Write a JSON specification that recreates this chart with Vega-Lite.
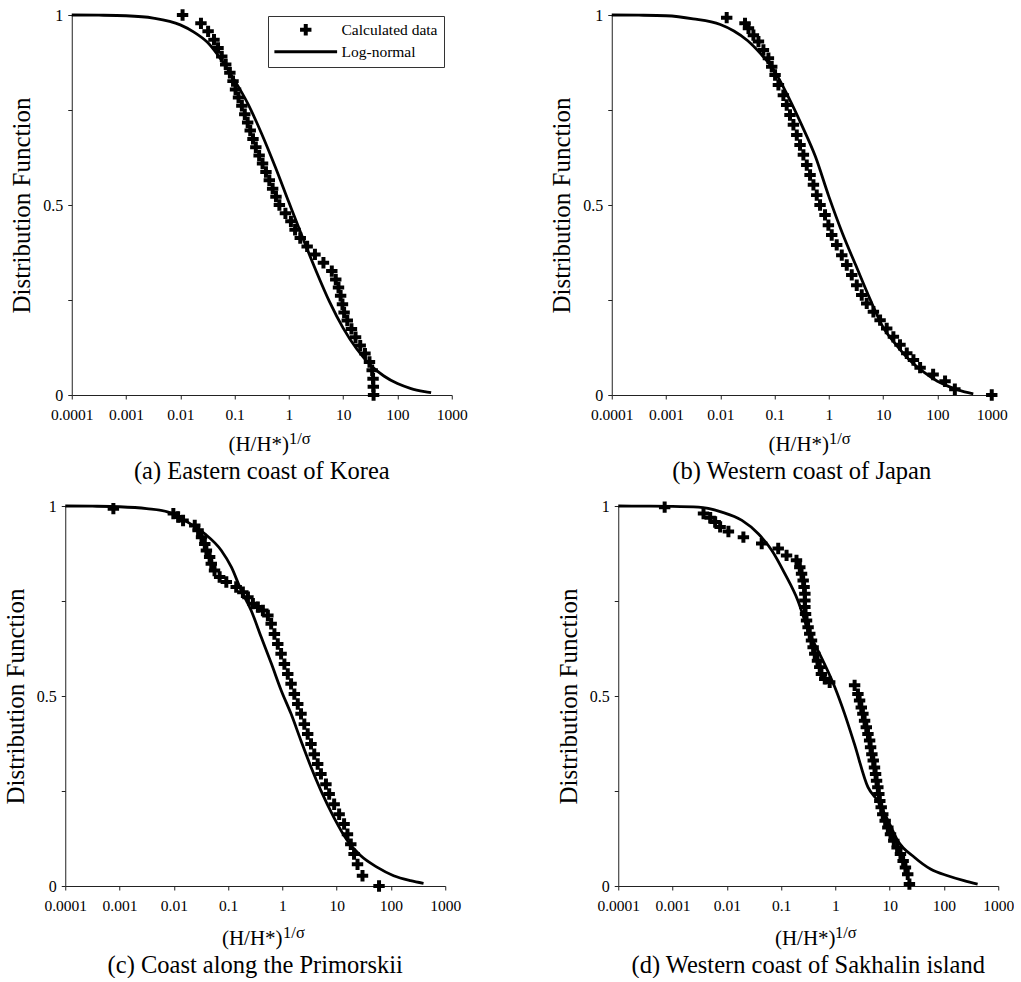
{
  "$schema": "https://vega.github.io/schema/vega-lite/v6.json",
  "background": "white",
  "padding": {"left": 3, "top": 7, "right": 0, "bottom": 0},
  "config": {
    "font": "Liberation Serif",
    "view": {"stroke": null},
    "title": {"font": "Liberation Serif", "fontSize": 24.5, "fontWeight": "normal", "color": "black", "anchor": "middle", "orient": "bottom", "offset": 6},
    "axis": {"domainColor": "#222", "tickColor": "#222", "tickSize": 4, "grid": false, "labelFont": "Liberation Serif", "labelColor": "black", "titleFont": "Liberation Serif", "titleFontWeight": "normal", "titleColor": "black"},
    "legend": {"labelFont": "Liberation Serif", "labelColor": "black"}
  },
  "datasets": {
    "a_pts": [
      {"x": 0.011, "y": 1.0}, {"x": 0.024, "y": 0.978}, {"x": 0.0325, "y": 0.957}, {"x": 0.0417, "y": 0.935},
      {"x": 0.0495, "y": 0.913}, {"x": 0.058, "y": 0.891}, {"x": 0.0686, "y": 0.870}, {"x": 0.0818, "y": 0.848},
      {"x": 0.0935, "y": 0.826}, {"x": 0.104, "y": 0.804}, {"x": 0.118, "y": 0.783}, {"x": 0.136, "y": 0.761},
      {"x": 0.154, "y": 0.739}, {"x": 0.174, "y": 0.717}, {"x": 0.194, "y": 0.696}, {"x": 0.218, "y": 0.674},
      {"x": 0.246, "y": 0.652}, {"x": 0.283, "y": 0.630}, {"x": 0.327, "y": 0.609}, {"x": 0.378, "y": 0.587},
      {"x": 0.436, "y": 0.565}, {"x": 0.502, "y": 0.543}, {"x": 0.578, "y": 0.522}, {"x": 0.668, "y": 0.500},
      {"x": 0.863, "y": 0.478}, {"x": 1.09, "y": 0.457}, {"x": 1.30, "y": 0.435}, {"x": 1.62, "y": 0.413},
      {"x": 2.17, "y": 0.391}, {"x": 3.02, "y": 0.370}, {"x": 4.33, "y": 0.348}, {"x": 6.17, "y": 0.326},
      {"x": 7.3, "y": 0.304}, {"x": 8.2, "y": 0.283}, {"x": 8.97, "y": 0.261}, {"x": 9.7, "y": 0.239},
      {"x": 10.4, "y": 0.217}, {"x": 11.9, "y": 0.196}, {"x": 14.2, "y": 0.174}, {"x": 16.9, "y": 0.152},
      {"x": 20.6, "y": 0.130}, {"x": 25.2, "y": 0.109}, {"x": 30.5, "y": 0.087}, {"x": 34.2, "y": 0.065},
      {"x": 35.5, "y": 0.043}, {"x": 35.9, "y": 0.022}, {"x": 36.3, "y": 0.0}
    ],
    "a_fit": [
      {"x": 0.0001, "y": 1.0}, {"x": 0.000316, "y": 0.9995}, {"x": 0.001, "y": 0.998}, {"x": 0.00316, "y": 0.992},
      {"x": 0.01, "y": 0.974}, {"x": 0.0178, "y": 0.955}, {"x": 0.0316, "y": 0.928}, {"x": 0.0562, "y": 0.883},
      {"x": 0.1, "y": 0.828}, {"x": 0.178, "y": 0.765}, {"x": 0.316, "y": 0.687}, {"x": 0.562, "y": 0.6},
      {"x": 1.0, "y": 0.507}, {"x": 1.78, "y": 0.415}, {"x": 3.16, "y": 0.327}, {"x": 5.62, "y": 0.245},
      {"x": 10, "y": 0.176}, {"x": 17.8, "y": 0.121}, {"x": 31.6, "y": 0.079}, {"x": 56.2, "y": 0.05},
      {"x": 100, "y": 0.03}, {"x": 178, "y": 0.017}, {"x": 316, "y": 0.009}, {"x": 417, "y": 0.006}
    ],
    "b_pts": [
      {"x": 0.0131, "y": 0.993}, {"x": 0.0285, "y": 0.978}, {"x": 0.033, "y": 0.965}, {"x": 0.0407, "y": 0.947},
      {"x": 0.0504, "y": 0.93}, {"x": 0.0622, "y": 0.908}, {"x": 0.0769, "y": 0.886}, {"x": 0.0885, "y": 0.864},
      {"x": 0.102, "y": 0.842}, {"x": 0.1175, "y": 0.816}, {"x": 0.145, "y": 0.789}, {"x": 0.167, "y": 0.763},
      {"x": 0.192, "y": 0.737}, {"x": 0.222, "y": 0.711}, {"x": 0.256, "y": 0.684}, {"x": 0.294, "y": 0.658},
      {"x": 0.339, "y": 0.632}, {"x": 0.391, "y": 0.605}, {"x": 0.45, "y": 0.579}, {"x": 0.519, "y": 0.553},
      {"x": 0.597, "y": 0.526}, {"x": 0.687, "y": 0.5}, {"x": 0.849, "y": 0.474}, {"x": 0.979, "y": 0.447},
      {"x": 1.127, "y": 0.421}, {"x": 1.393, "y": 0.395}, {"x": 1.726, "y": 0.368}, {"x": 2.133, "y": 0.342},
      {"x": 2.636, "y": 0.316}, {"x": 3.258, "y": 0.289}, {"x": 4.027, "y": 0.263}, {"x": 4.977, "y": 0.241},
      {"x": 6.607, "y": 0.219}, {"x": 8.77, "y": 0.197}, {"x": 11.61, "y": 0.175}, {"x": 15.42, "y": 0.153},
      {"x": 20.4, "y": 0.132}, {"x": 27.2, "y": 0.11}, {"x": 36.1, "y": 0.092}, {"x": 47.9, "y": 0.072},
      {"x": 83.2, "y": 0.054}, {"x": 138, "y": 0.036}, {"x": 209, "y": 0.015}, {"x": 1000, "y": 0.0}
    ],
    "b_fit": [
      {"x": 0.0001, "y": 1.0}, {"x": 0.000316, "y": 0.9995}, {"x": 0.001, "y": 0.998}, {"x": 0.00316, "y": 0.99},
      {"x": 0.01, "y": 0.975}, {"x": 0.0178, "y": 0.958}, {"x": 0.0316, "y": 0.933}, {"x": 0.0562, "y": 0.897},
      {"x": 0.1, "y": 0.852}, {"x": 0.178, "y": 0.785}, {"x": 0.316, "y": 0.71}, {"x": 0.562, "y": 0.628},
      {"x": 1.0, "y": 0.522}, {"x": 1.78, "y": 0.425}, {"x": 3.16, "y": 0.34}, {"x": 5.62, "y": 0.255},
      {"x": 10, "y": 0.178}, {"x": 17.8, "y": 0.13}, {"x": 31.6, "y": 0.09}, {"x": 56.2, "y": 0.06},
      {"x": 100, "y": 0.036}, {"x": 178, "y": 0.02}, {"x": 316, "y": 0.008}, {"x": 457, "y": 0.003}
    ],
    "c_pts": [
      {"x": 0.00077, "y": 0.993}, {"x": 0.0098, "y": 0.98}, {"x": 0.012, "y": 0.971}, {"x": 0.0148, "y": 0.962},
      {"x": 0.0243, "y": 0.949}, {"x": 0.028, "y": 0.936}, {"x": 0.0324, "y": 0.918}, {"x": 0.0372, "y": 0.9},
      {"x": 0.0398, "y": 0.883}, {"x": 0.0457, "y": 0.866}, {"x": 0.049, "y": 0.848}, {"x": 0.0562, "y": 0.83},
      {"x": 0.0698, "y": 0.813}, {"x": 0.0927, "y": 0.8}, {"x": 0.141, "y": 0.787}, {"x": 0.187, "y": 0.773},
      {"x": 0.232, "y": 0.76}, {"x": 0.286, "y": 0.743}, {"x": 0.353, "y": 0.734}, {"x": 0.437, "y": 0.725},
      {"x": 0.54, "y": 0.712}, {"x": 0.621, "y": 0.69}, {"x": 0.713, "y": 0.663}, {"x": 0.822, "y": 0.637},
      {"x": 0.946, "y": 0.611}, {"x": 1.089, "y": 0.584}, {"x": 1.256, "y": 0.558}, {"x": 1.445, "y": 0.532},
      {"x": 1.66, "y": 0.505}, {"x": 1.919, "y": 0.479}, {"x": 2.203, "y": 0.453}, {"x": 2.535, "y": 0.426},
      {"x": 2.924, "y": 0.4}, {"x": 3.365, "y": 0.374}, {"x": 3.864, "y": 0.347}, {"x": 4.467, "y": 0.321},
      {"x": 5.129, "y": 0.295}, {"x": 6.34, "y": 0.268}, {"x": 7.28, "y": 0.242}, {"x": 8.99, "y": 0.215},
      {"x": 11.1, "y": 0.189}, {"x": 13.7, "y": 0.163}, {"x": 15.8, "y": 0.136}, {"x": 18.2, "y": 0.11},
      {"x": 20.9, "y": 0.084}, {"x": 24.2, "y": 0.057}, {"x": 29.9, "y": 0.027}, {"x": 60.3, "y": 0.0}
    ],
    "c_fit": [
      {"x": 0.0001, "y": 1.0}, {"x": 0.000316, "y": 0.9995}, {"x": 0.001, "y": 0.998}, {"x": 0.00316, "y": 0.993},
      {"x": 0.0079, "y": 0.984}, {"x": 0.0178, "y": 0.958}, {"x": 0.0372, "y": 0.927}, {"x": 0.075, "y": 0.883},
      {"x": 0.115, "y": 0.839}, {"x": 0.174, "y": 0.778}, {"x": 0.266, "y": 0.725}, {"x": 0.407, "y": 0.655},
      {"x": 0.631, "y": 0.584}, {"x": 0.955, "y": 0.514}, {"x": 1.445, "y": 0.453}, {"x": 2.19, "y": 0.383},
      {"x": 3.39, "y": 0.312}, {"x": 5.13, "y": 0.251}, {"x": 8.91, "y": 0.18}, {"x": 15.8, "y": 0.119},
      {"x": 27.5, "y": 0.08}, {"x": 56.2, "y": 0.049}, {"x": 112, "y": 0.027}, {"x": 229, "y": 0.014},
      {"x": 398, "y": 0.007}
    ],
    "d_pts": [
      {"x": 0.000716, "y": 0.997}, {"x": 0.00372, "y": 0.98}, {"x": 0.00494, "y": 0.969}, {"x": 0.0061, "y": 0.958},
      {"x": 0.00753, "y": 0.945}, {"x": 0.0107, "y": 0.933}, {"x": 0.0202, "y": 0.918}, {"x": 0.0439, "y": 0.901},
      {"x": 0.0885, "y": 0.888}, {"x": 0.126, "y": 0.87}, {"x": 0.192, "y": 0.857}, {"x": 0.221, "y": 0.839},
      {"x": 0.238, "y": 0.822}, {"x": 0.255, "y": 0.804}, {"x": 0.265, "y": 0.787}, {"x": 0.274, "y": 0.769},
      {"x": 0.274, "y": 0.751}, {"x": 0.274, "y": 0.734}, {"x": 0.282, "y": 0.716}, {"x": 0.294, "y": 0.699},
      {"x": 0.314, "y": 0.681}, {"x": 0.337, "y": 0.664}, {"x": 0.363, "y": 0.646}, {"x": 0.389, "y": 0.628},
      {"x": 0.417, "y": 0.611}, {"x": 0.468, "y": 0.593}, {"x": 0.515, "y": 0.576}, {"x": 0.553, "y": 0.558},
      {"x": 0.637, "y": 0.545}, {"x": 0.785, "y": 0.536}, {"x": 2.26, "y": 0.528}, {"x": 2.6, "y": 0.505},
      {"x": 2.79, "y": 0.488}, {"x": 3.0, "y": 0.47}, {"x": 3.21, "y": 0.453}, {"x": 3.45, "y": 0.435},
      {"x": 3.71, "y": 0.418}, {"x": 3.98, "y": 0.4}, {"x": 4.27, "y": 0.383}, {"x": 4.45, "y": 0.365},
      {"x": 4.7, "y": 0.347}, {"x": 4.98, "y": 0.33}, {"x": 5.25, "y": 0.312}, {"x": 5.5, "y": 0.295},
      {"x": 5.73, "y": 0.277}, {"x": 6.05, "y": 0.26}, {"x": 6.31, "y": 0.242}, {"x": 6.58, "y": 0.224},
      {"x": 6.98, "y": 0.207}, {"x": 7.46, "y": 0.189}, {"x": 8.26, "y": 0.172}, {"x": 9.25, "y": 0.154},
      {"x": 10.35, "y": 0.136}, {"x": 11.9, "y": 0.119}, {"x": 13.7, "y": 0.101}, {"x": 15.8, "y": 0.084},
      {"x": 17.7, "y": 0.066}, {"x": 19.5, "y": 0.049}, {"x": 21.5, "y": 0.031}, {"x": 23.1, "y": 0.005}
    ],
    "d_fit": [
      {"x": 0.0001, "y": 1.0}, {"x": 0.000316, "y": 0.9995}, {"x": 0.001, "y": 0.999}, {"x": 0.003, "y": 0.997},
      {"x": 0.0081, "y": 0.984}, {"x": 0.019, "y": 0.962}, {"x": 0.038, "y": 0.927}, {"x": 0.0676, "y": 0.883},
      {"x": 0.117, "y": 0.822}, {"x": 0.204, "y": 0.751}, {"x": 0.316, "y": 0.672}, {"x": 0.55, "y": 0.602},
      {"x": 0.977, "y": 0.523}, {"x": 1.48, "y": 0.453}, {"x": 2.24, "y": 0.374}, {"x": 3.98, "y": 0.26},
      {"x": 6.03, "y": 0.224}, {"x": 9.33, "y": 0.172}, {"x": 14.1, "y": 0.119}, {"x": 28.8, "y": 0.075},
      {"x": 57.5, "y": 0.044}, {"x": 117, "y": 0.027}, {"x": 234, "y": 0.014}, {"x": 417, "y": 0.005}
    ],
    "sup_ab": [{"x": 1.0, "y": 0, "t": "1/σ"}],
    "sup_c": [{"x": 1.03, "y": 0, "t": "1/σ"}],
    "sup_d": [{"x": 0.98, "y": 0, "t": "1/σ"}]
  },
  "center": true,
  "spacing": 14,
  "vconcat": [
    {
      "spacing": 82,
      "hconcat": [
        {
          "width": 380, "height": 380,
          "title": "(a) Eastern coast of Korea",
          "encoding": {
            "x": {"field": "x", "type": "quantitative", "scale": {"type": "log", "domain": [0.0001, 1000]},
                  "axis": {"title": "(H/H*)", "values": [0.0001, 0.001, 0.01, 0.1, 1, 10, 100, 1000], "format": "~g", "labelFontSize": 15.5, "labelPadding": 8, "labelFlush": false, "labelOverlap": false, "titleFontSize": 21, "titleX": 186.5, "titleY": 55, "titleBaseline": "alphabetic"}},
            "y": {"field": "y", "type": "quantitative", "scale": {"domain": [0, 1], "nice": false},
                  "axis": {"title": "Distribution Function", "values": [0, 0.25, 0.5, 0.75, 1], "labelExpr": "datum.value == 0.25 || datum.value == 0.75 ? '' : format(datum.value, '~g')", "labelFontSize": 16, "labelPadding": 5, "titleFontSize": 25, "titleAngle": 270, "titleX": -42, "titleY": 190, "titleBaseline": "alphabetic"}}
          },
          "layer": [
            {"data": {"name": "a_fit"}, "mark": {"type": "line", "color": "black", "strokeWidth": 2.8, "interpolate": "monotone"}},
            {"data": {"name": "a_pts"}, "mark": {"type": "point", "filled": true, "size": 130, "opacity": 1, "color": "black"},
             "encoding": {"shape": {"datum": "Calculated data", "type": "nominal",
               "scale": {"domain": ["Calculated data", "Log-normal"], "range": ["M-1,-0.35H-0.35V-1H0.35V-0.35H1V0.35H0.35V1H-0.35V0.35H-1Z", "M-5.5,-0.27H5.5V0.27H-5.5Z"]},
               "legend": {"orient": "none", "legendX": 203, "legendY": 1, "title": null, "padding": 6, "strokeColor": "#333", "fillColor": "white", "symbolOffset": 24, "labelOffset": 28, "labelFontSize": 15.5, "rowPadding": 5, "symbolStrokeWidth": 0, "symbolFillColor": "black", "symbolSize": 130}}}},
            {"data": {"name": "sup_ab"}, "mark": {"type": "text", "align": "left", "baseline": "alphabetic", "dy": 49, "fontSize": 16.5, "font": "Liberation Serif", "color": "black"},
             "encoding": {"text": {"field": "t", "type": "nominal"}}}
          ]
        },
        {
          "width": 380, "height": 380,
          "title": "(b) Western coast of Japan",
          "encoding": {
            "x": {"field": "x", "type": "quantitative", "scale": {"type": "log", "domain": [0.0001, 1000]},
                  "axis": {"title": "(H/H*)", "values": [0.0001, 0.001, 0.01, 0.1, 1, 10, 100, 1000], "format": "~g", "labelFontSize": 15.5, "labelPadding": 8, "labelFlush": false, "labelOverlap": false, "titleFontSize": 21, "titleX": 186.5, "titleY": 55, "titleBaseline": "alphabetic"}},
            "y": {"field": "y", "type": "quantitative", "scale": {"domain": [0, 1], "nice": false},
                  "axis": {"title": "Distribution Function", "values": [0, 0.25, 0.5, 0.75, 1], "labelExpr": "datum.value == 0.25 || datum.value == 0.75 ? '' : format(datum.value, '~g')", "labelFontSize": 16, "labelPadding": 5, "titleFontSize": 25, "titleAngle": 270, "titleX": -42, "titleY": 190, "titleBaseline": "alphabetic"}}
          },
          "layer": [
            {"data": {"name": "b_fit"}, "mark": {"type": "line", "color": "black", "strokeWidth": 2.8, "interpolate": "monotone"}},
            {"data": {"name": "b_pts"}, "mark": {"type": "point", "filled": true, "size": 130, "opacity": 1, "color": "black"},
             "encoding": {"shape": {"datum": "Calculated data", "type": "nominal",
               "scale": {"domain": ["Calculated data", "Log-normal"], "range": ["M-1,-0.35H-0.35V-1H0.35V-0.35H1V0.35H0.35V1H-0.35V0.35H-1Z", "M-5.5,-0.27H5.5V0.27H-5.5Z"]},
               "legend": {"orient": "none", "legendX": 200, "legendY": 2, "title": null, "padding": 6, "strokeColor": "#333", "fillColor": "white", "symbolOffset": 24, "labelOffset": 28, "labelFontSize": 15.5, "rowPadding": 5, "symbolStrokeWidth": 0, "symbolFillColor": "black", "symbolSize": 130}}}},
            {"data": {"name": "sup_ab"}, "mark": {"type": "text", "align": "left", "baseline": "alphabetic", "dy": 49, "fontSize": 16.5, "font": "Liberation Serif", "color": "black"},
             "encoding": {"text": {"field": "t", "type": "nominal"}}}
          ]
        }
      ]
    },
    {
      "spacing": 95,
      "hconcat": [
        {
          "width": 380, "height": 380,
          "title": "(c) Coast along the Primorskii",
          "encoding": {
            "x": {"field": "x", "type": "quantitative", "scale": {"type": "log", "domain": [0.0001, 1000]},
                  "axis": {"title": "(H/H*)", "values": [0.0001, 0.001, 0.01, 0.1, 1, 10, 100, 1000], "format": "~g", "labelFontSize": 15.5, "labelPadding": 8, "labelFlush": false, "labelOverlap": false, "titleFontSize": 21, "titleX": 186.5, "titleY": 58, "titleBaseline": "alphabetic"}},
            "y": {"field": "y", "type": "quantitative", "scale": {"domain": [0, 1], "nice": false},
                  "axis": {"title": "Distribution Function", "values": [0, 0.25, 0.5, 0.75, 1], "labelExpr": "datum.value == 0.25 || datum.value == 0.75 ? '' : format(datum.value, '~g')", "labelFontSize": 16, "labelPadding": 5, "titleFontSize": 25, "titleAngle": 270, "titleX": -42, "titleY": 190, "titleBaseline": "alphabetic"}}
          },
          "layer": [
            {"data": {"name": "c_fit"}, "mark": {"type": "line", "color": "black", "strokeWidth": 2.8, "interpolate": "monotone"}},
            {"data": {"name": "c_pts"}, "mark": {"type": "point", "filled": true, "size": 130, "opacity": 1, "color": "black"},
             "encoding": {"shape": {"datum": "Calculated data", "type": "nominal",
               "scale": {"domain": ["Calculated data", "Log-normal"], "range": ["M-1,-0.35H-0.35V-1H0.35V-0.35H1V0.35H0.35V1H-0.35V0.35H-1Z", "M-5.5,-0.27H5.5V0.27H-5.5Z"]},
               "legend": {"orient": "none", "legendX": 222, "legendY": 1, "title": null, "padding": 5, "strokeColor": "#333", "fillColor": "white", "symbolOffset": 24, "labelOffset": 28, "labelFontSize": 14, "rowPadding": 4, "symbolStrokeWidth": 0, "symbolFillColor": "black", "symbolSize": 130}}}},
            {"data": {"name": "sup_c"}, "mark": {"type": "text", "align": "left", "baseline": "alphabetic", "dy": 52, "fontSize": 16.5, "font": "Liberation Serif", "color": "black"},
             "encoding": {"text": {"field": "t", "type": "nominal"}}}
          ]
        },
        {
          "width": 380, "height": 380,
          "title": "(d) Western coast of Sakhalin island",
          "encoding": {
            "x": {"field": "x", "type": "quantitative", "scale": {"type": "log", "domain": [0.0001, 1000]},
                  "axis": {"title": "(H/H*)", "values": [0.0001, 0.001, 0.01, 0.1, 1, 10, 100, 1000], "format": "~g", "labelFontSize": 15.5, "labelPadding": 8, "labelFlush": false, "labelOverlap": false, "titleFontSize": 21, "titleX": 186.5, "titleY": 58, "titleBaseline": "alphabetic"}},
            "y": {"field": "y", "type": "quantitative", "scale": {"domain": [0, 1], "nice": false},
                  "axis": {"title": "Distribution Function", "values": [0, 0.25, 0.5, 0.75, 1], "labelExpr": "datum.value == 0.25 || datum.value == 0.75 ? '' : format(datum.value, '~g')", "labelFontSize": 16, "labelPadding": 5, "titleFontSize": 25, "titleAngle": 270, "titleX": -42, "titleY": 190, "titleBaseline": "alphabetic"}}
          },
          "layer": [
            {"data": {"name": "d_fit"}, "mark": {"type": "line", "color": "black", "strokeWidth": 2.8, "interpolate": "monotone"}},
            {"data": {"name": "d_pts"}, "mark": {"type": "point", "filled": true, "size": 130, "opacity": 1, "color": "black"},
             "encoding": {"shape": {"datum": "Calculated data", "type": "nominal",
               "scale": {"domain": ["Calculated data", "Log-normal"], "range": ["M-1,-0.35H-0.35V-1H0.35V-0.35H1V0.35H0.35V1H-0.35V0.35H-1Z", "M-5.5,-0.27H5.5V0.27H-5.5Z"]},
               "legend": {"orient": "none", "legendX": 208, "legendY": -2, "title": null, "padding": 6, "strokeColor": "#333", "fillColor": "white", "symbolOffset": 24, "labelOffset": 28, "labelFontSize": 15.5, "rowPadding": 5, "symbolStrokeWidth": 0, "symbolFillColor": "black", "symbolSize": 130}}}},
            {"data": {"name": "sup_d"}, "mark": {"type": "text", "align": "left", "baseline": "alphabetic", "dy": 52, "fontSize": 16.5, "font": "Liberation Serif", "color": "black"},
             "encoding": {"text": {"field": "t", "type": "nominal"}}}
          ]
        }
      ]
    }
  ]
}
